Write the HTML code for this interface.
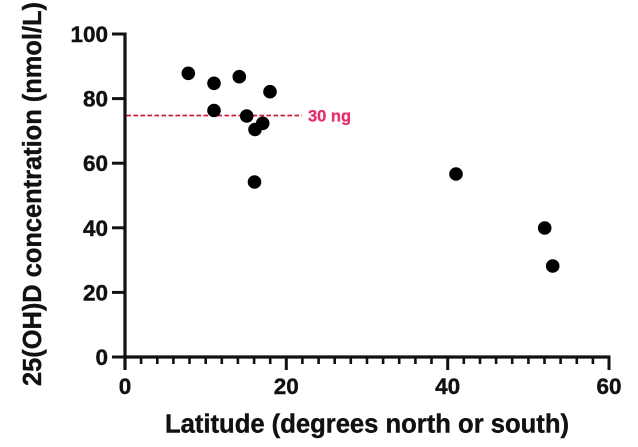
<!DOCTYPE html>
<html>
<head>
<meta charset="utf-8">
<style>
  html, body { margin:0; padding:0; background:#fff; }
  svg { display:block; }
  text { font-family: "Liberation Sans", Arial, sans-serif; font-weight:bold; fill:#111; stroke:#111; stroke-width:0.4; }
</style>
</head>
<body>
<svg width="638" height="447" viewBox="0 0 638 447" xmlns="http://www.w3.org/2000/svg">
  <rect x="0" y="0" width="638" height="447" fill="#fff"/>

  <!-- Y axis -->
  <line x1="125" y1="32.5" x2="125" y2="370" stroke="#111" stroke-width="3.2"/>
  <!-- X axis -->
  <line x1="123.5" y1="357" x2="610.5" y2="357" stroke="#111" stroke-width="3.2"/>

  <!-- Y ticks -->
  <g stroke="#111" stroke-width="3">
    <line x1="112" y1="34" x2="125" y2="34"/>
    <line x1="112" y1="98.6" x2="125" y2="98.6"/>
    <line x1="112" y1="163.2" x2="125" y2="163.2"/>
    <line x1="112" y1="227.8" x2="125" y2="227.8"/>
    <line x1="112" y1="292.4" x2="125" y2="292.4"/>
    <line x1="112" y1="357" x2="125" y2="357"/>
  </g>

  <!-- X major ticks -->
  <g stroke="#111" stroke-width="3">
    <line x1="286.3" y1="357" x2="286.3" y2="370"/>
    <line x1="447.7" y1="357" x2="447.7" y2="370"/>
    <line x1="609" y1="357" x2="609" y2="370"/>
  </g>
  <!-- X minor ticks -->
  <g stroke="#111" stroke-width="2.6">
    <line x1="141.1" y1="357" x2="141.1" y2="364"/>
    <line x1="157.3" y1="357" x2="157.3" y2="364"/>
    <line x1="173.4" y1="357" x2="173.4" y2="364"/>
    <line x1="189.5" y1="357" x2="189.5" y2="364"/>
    <line x1="205.7" y1="357" x2="205.7" y2="364"/>
    <line x1="221.8" y1="357" x2="221.8" y2="364"/>
    <line x1="237.9" y1="357" x2="237.9" y2="364"/>
    <line x1="254.1" y1="357" x2="254.1" y2="364"/>
    <line x1="270.2" y1="357" x2="270.2" y2="364"/>
    <line x1="302.4" y1="357" x2="302.4" y2="364"/>
    <line x1="318.6" y1="357" x2="318.6" y2="364"/>
    <line x1="334.7" y1="357" x2="334.7" y2="364"/>
    <line x1="350.8" y1="357" x2="350.8" y2="364"/>
    <line x1="367" y1="357" x2="367" y2="364"/>
    <line x1="383.1" y1="357" x2="383.1" y2="364"/>
    <line x1="399.2" y1="357" x2="399.2" y2="364"/>
    <line x1="415.4" y1="357" x2="415.4" y2="364"/>
    <line x1="431.5" y1="357" x2="431.5" y2="364"/>
    <line x1="463.8" y1="357" x2="463.8" y2="364"/>
    <line x1="480" y1="357" x2="480" y2="364"/>
    <line x1="496.1" y1="357" x2="496.1" y2="364"/>
    <line x1="512.2" y1="357" x2="512.2" y2="364"/>
    <line x1="528.4" y1="357" x2="528.4" y2="364"/>
    <line x1="544.5" y1="357" x2="544.5" y2="364"/>
    <line x1="560.6" y1="357" x2="560.6" y2="364"/>
    <line x1="576.8" y1="357" x2="576.8" y2="364"/>
    <line x1="592.9" y1="357" x2="592.9" y2="364"/>
  </g>

  <!-- Y tick labels -->
  <g font-size="22.5" text-anchor="end">
    <text x="108" y="42">100</text>
    <text x="108" y="106.6">80</text>
    <text x="108" y="171.2">60</text>
    <text x="108" y="235.8">40</text>
    <text x="108" y="300.4">20</text>
    <text x="108" y="365">0</text>
  </g>

  <!-- X tick labels -->
  <g font-size="22.5" text-anchor="middle">
    <text x="125" y="394">0</text>
    <text x="286.3" y="394">20</text>
    <text x="447.7" y="394">40</text>
    <text x="609" y="394">60</text>
  </g>

  <!-- Axis titles -->
  <text x="367" y="432.5" font-size="25.5" text-anchor="middle" textLength="404" lengthAdjust="spacingAndGlyphs">Latitude (degrees north or south)</text>
  <text transform="translate(41,194) rotate(-90)" x="0" y="0" font-size="25.5" text-anchor="middle" textLength="384" lengthAdjust="spacingAndGlyphs">25(OH)D concentration (nmol/L)</text>

  <!-- Reference line -->
  <line x1="126.5" y1="115.5" x2="302" y2="115.5" stroke="#d41a3a" stroke-width="1.8" stroke-dasharray="4.5,2.5"/>
  <text x="308" y="121.5" font-size="16.5" style="fill:#e3306a;stroke:#e3306a;stroke-width:0.3">30 ng</text>

  <!-- Data points -->
  <g fill="#000">
    <circle cx="188.3" cy="73.3" r="6.8"/>
    <circle cx="214" cy="83.3" r="6.8"/>
    <circle cx="239.3" cy="76.7" r="6.8"/>
    <circle cx="270" cy="91.7" r="6.8"/>
    <circle cx="214" cy="110.5" r="6.8"/>
    <circle cx="246.7" cy="116" r="6.8"/>
    <circle cx="262.7" cy="123.3" r="6.8"/>
    <circle cx="255" cy="129.5" r="6.8"/>
    <circle cx="254.5" cy="182" r="6.8"/>
    <circle cx="456" cy="174" r="6.8"/>
    <circle cx="544.7" cy="228" r="6.8"/>
    <circle cx="552.7" cy="266" r="6.8"/>
  </g>
</svg>
</body>
</html>
